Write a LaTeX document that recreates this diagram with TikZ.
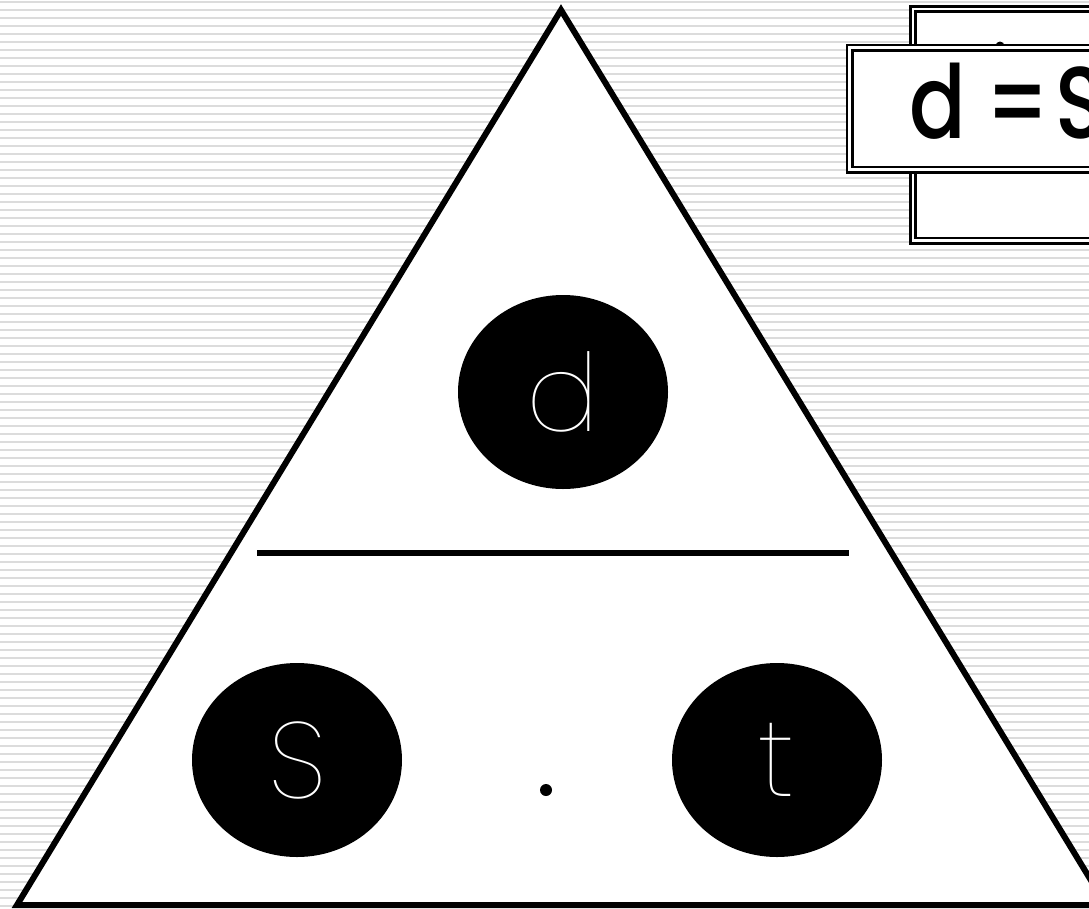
\documentclass[tikz,border=0pt]{standalone}
\usepackage{fontspec}
\usetikzlibrary{shapes.geometric}
\IfFontExistsTF{Poppins Medium}{\newfontfamily\mainf{Poppins Medium}[FakeStretch=0.82]}{\IfFontExistsTF{Poppins}{\newfontfamily\mainf{Poppins}[FakeStretch=0.82]}{\newfontfamily\mainf{DejaVu Sans}[FakeStretch=0.82]}}
\IfFontExistsTF{Poppins Thin}{\newfontfamily\thinf{Poppins Thin}}{\IfFontExistsTF{DejaVu Sans ExtraLight}{\newfontfamily\thinf{DejaVu Sans ExtraLight}}{\newfontfamily\thinf{DejaVu Sans}}}
\definecolor{stripe}{HTML}{DCDCDC}
\begin{document}
\begin{tikzpicture}[x=1pt,y=-1pt,
  stripeline/.style={draw=stripe, line width=1.8pt},
  edge/.style={line width=6pt, line join=miter},
  blob/.style={ellipse, fill=black, minimum width=210pt, minimum height=194pt, inner sep=0pt, text=white, font=\thinf\fontsize{108}{108}\selectfont},
  dbox/.style={draw=black, fill=white, line width=2.8pt, double=white, double distance=2.4pt}
]
\useasboundingbox (0,0) rectangle (1089,908);
\fill[white] (0,0) rectangle (1089,908);
\foreach \k in {0,...,113} \draw[stripeline] (0,1.7+8*\k) -- (1089,1.7+8*\k);
% triangle
\coordinate (apex) at (561,10);
\coordinate (bl) at (17,905);
\coordinate (br) at (1106,905);
\draw[edge, fill=white] (apex) -- (bl) -- (br) -- cycle;
% dividing line
\coordinate (hl) at (257,553);
\coordinate (hr) at (849,553);
\draw[line width=6pt] (hl) -- (hr);
% circles
\node[blob] (d) at (563,392) {d};
\node[blob] (s) at (297,760) {S};
\node[blob] (t) at (777,760) {t};
\node[circle, fill=black, minimum size=12pt, inner sep=0pt] (dot) at (546,790) {};
% top right boxes
\draw[dbox] (913,8.8) rectangle (1130,240.5);
\fill (1000,46) circle (4.5);
\draw[dbox] (849.5,47.5) rectangle (1130,169.5);
\node[anchor=base west, font=\mainf\fontsize{102}{102}\selectfont, inner sep=0pt] (eq) at (909,138) {\makebox[76pt][l]{d }\makebox[70pt][l]{= }S};
\end{tikzpicture}
\end{document}
